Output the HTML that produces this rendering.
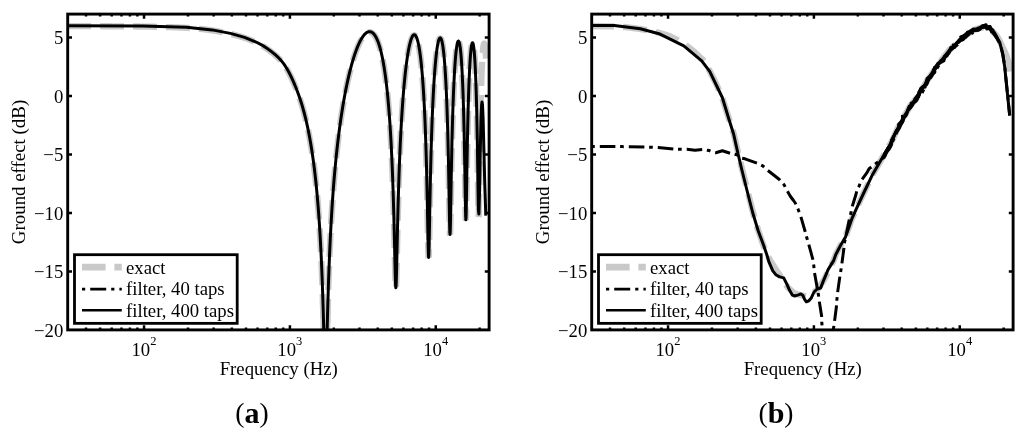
<!DOCTYPE html>
<html lang="en">
<head>
<meta charset="utf-8">
<title>Ground effect: exact vs. filter approximations</title>
<style>
html,body{margin:0;padding:0;background:#fff;}
body{width:1024px;height:436px;overflow:hidden;font-family:"Liberation Serif","Times New Roman",serif;}
svg{display:block;}
</style>
</head>
<body>
<svg width="1024" height="436" viewBox="0 0 1024 436">
<defs>
<clipPath id="ca"><rect x="67.7" y="14.1" width="421.40000000000003" height="315.79999999999995"/></clipPath>
<clipPath id="cb"><rect x="591.7" y="14.1" width="421.40000000000003" height="315.79999999999995"/></clipPath>
</defs>
<rect width="1024" height="436" fill="#fff"/>
<g clip-path="url(#ca)" fill="none" stroke-linejoin="round">
<path transform="translate(0 0.5)" d="M67.70 25.63L67.90 25.63L68.10 25.63L68.30 25.63L68.50 25.63L68.70 25.63L68.90 25.63L69.10 25.64L69.30 25.64L69.50 25.64L69.70 25.64L69.90 25.64L70.10 25.64L70.30 25.64L70.50 25.64L70.70 25.64L70.90 25.64L71.10 25.64L71.30 25.64L71.50 25.64L71.70 25.64L71.90 25.64L72.10 25.64L72.30 25.64L72.50 25.64L72.70 25.64L72.90 25.64L73.10 25.64L73.30 25.64L73.50 25.64L73.70 25.64L73.90 25.64L74.10 25.64L74.30 25.64L74.50 25.65L74.70 25.65L74.90 25.65L75.10 25.65L75.30 25.65L75.50 25.65L75.70 25.65L75.90 25.65L76.10 25.65L76.30 25.65L76.50 25.65L76.70 25.65L76.90 25.65L77.10 25.65L77.30 25.65L77.50 25.65L77.70 25.65L77.90 25.65L78.10 25.65L78.30 25.65L78.50 25.65L78.70 25.65L78.90 25.65L79.10 25.65L79.30 25.66L79.50 25.66L79.70 25.66L79.90 25.66L80.10 25.66L80.30 25.66L80.50 25.66L80.70 25.66L80.90 25.66L81.10 25.66L81.30 25.66L81.50 25.66L81.70 25.66L81.90 25.66L82.10 25.66L82.30 25.66L82.50 25.66L82.70 25.66L82.90 25.66L83.10 25.66L83.30 25.66L83.50 25.67L83.70 25.67L83.90 25.67L84.10 25.67L84.30 25.67L84.50 25.67L84.70 25.67L84.90 25.67L85.10 25.67L85.30 25.67L85.50 25.67L85.70 25.67L85.90 25.67L86.10 25.67L86.30 25.67L86.50 25.67L86.70 25.67L86.90 25.67L87.10 25.68L87.30 25.68L87.50 25.68L87.70 25.68L87.90 25.68L88.10 25.68L88.30 25.68L88.50 25.68L88.70 25.68L88.90 25.68L89.10 25.68L89.30 25.68L89.50 25.68L89.70 25.68L89.90 25.68L90.10 25.68L90.30 25.68L90.50 25.69L90.70 25.69L90.90 25.69L91.10 25.69L91.30 25.69L91.50 25.69L91.70 25.69L91.90 25.69L92.10 25.69L92.30 25.69L92.50 25.69L92.70 25.69L92.90 25.69L93.10 25.69L93.30 25.69L93.50 25.69L93.70 25.70L93.90 25.70L94.10 25.70L94.30 25.70L94.50 25.70L94.70 25.70L94.90 25.70L95.10 25.70L95.30 25.70L95.50 25.70L95.70 25.70L95.90 25.70L96.10 25.70L96.30 25.70L96.50 25.71L96.70 25.71L96.90 25.71L97.10 25.71L97.30 25.71L97.50 25.71L97.70 25.71L97.90 25.71L98.10 25.71L98.30 25.71L98.50 25.71L98.70 25.71L98.90 25.71L99.10 25.72L99.30 25.72L99.50 25.72L99.70 25.72L99.90 25.72L100.10 25.72L100.30 25.72L100.50 25.72L100.70 25.72L100.90 25.72L101.10 25.72L101.30 25.72L101.50 25.73L101.70 25.73L101.90 25.73L102.10 25.73L102.30 25.73L102.50 25.73L102.70 25.73L102.90 25.73L103.10 25.73L103.30 25.73L103.50 25.73L103.70 25.73L103.90 25.74L104.10 25.74L104.30 25.74L104.50 25.74L104.70 25.74L104.90 25.74L105.10 25.74L105.30 25.74L105.50 25.74L105.70 25.74L105.90 25.74L106.10 25.75L106.30 25.75L106.50 25.75L106.70 25.75L106.90 25.75L107.10 25.75L107.30 25.75L107.50 25.75L107.70 25.75L107.90 25.75L108.10 25.76L108.30 25.76L108.50 25.76L108.70 25.76L108.90 25.76L109.10 25.76L109.30 25.76L109.50 25.76L109.70 25.76L109.90 25.77L110.10 25.77L110.30 25.77L110.50 25.77L110.70 25.77L110.90 25.77L111.10 25.77L111.30 25.77L111.50 25.77L111.70 25.78L111.90 25.78L112.10 25.78L112.30 25.78L112.50 25.78L112.70 25.78L112.90 25.78L113.10 25.78L113.30 25.78L113.50 25.79L113.70 25.79L113.90 25.79L114.10 25.79L114.30 25.79L114.50 25.79L114.70 25.79L114.90 25.79L115.10 25.80L115.30 25.80L115.50 25.80L115.70 25.80L115.90 25.80L116.10 25.80L116.30 25.80L116.50 25.80L116.70 25.81L116.90 25.81L117.10 25.81L117.30 25.81L117.50 25.81L117.70 25.81L117.90 25.81L118.10 25.82L118.30 25.82L118.50 25.82L118.70 25.82L118.90 25.82L119.10 25.82L119.30 25.82L119.50 25.83L119.70 25.83L119.90 25.83L120.10 25.83L120.30 25.83L120.50 25.83L120.70 25.83L120.90 25.84L121.10 25.84L121.30 25.84L121.50 25.84L121.70 25.84L121.90 25.84L122.10 25.84L122.30 25.85L122.50 25.85L122.70 25.85L122.90 25.85L123.10 25.85L123.30 25.85L123.50 25.86L123.70 25.86L123.90 25.86L124.10 25.86L124.30 25.86L124.50 25.86L124.70 25.87L124.90 25.87L125.10 25.87L125.30 25.87L125.50 25.87L125.70 25.87L125.90 25.88L126.10 25.88L126.30 25.88L126.50 25.88L126.70 25.88L126.90 25.88L127.10 25.89L127.30 25.89L127.50 25.89L127.70 25.89L127.90 25.89L128.10 25.90L128.30 25.90L128.50 25.90L128.70 25.90L128.90 25.90L129.10 25.90L129.30 25.91L129.50 25.91L129.70 25.91L129.90 25.91L130.10 25.91L130.30 25.92L130.50 25.92L130.70 25.92L130.90 25.92L131.10 25.92L131.30 25.93L131.50 25.93L131.70 25.93L131.90 25.93L132.10 25.93L132.30 25.94L132.50 25.94L132.70 25.94L132.90 25.94L133.10 25.94L133.30 25.95L133.50 25.95L133.70 25.95L133.90 25.95L134.10 25.96L134.30 25.96L134.50 25.96L134.70 25.96L134.90 25.96L135.10 25.97L135.30 25.97L135.50 25.97L135.70 25.97L135.90 25.98L136.10 25.98L136.30 25.98L136.50 25.98L136.70 25.99L136.90 25.99L137.10 25.99L137.30 25.99L137.50 25.99L137.70 26.00L137.90 26.00L138.10 26.00L138.30 26.00L138.50 26.01L138.70 26.01L138.90 26.01L139.10 26.01L139.30 26.02L139.50 26.02L139.70 26.02L139.90 26.03L140.10 26.03L140.30 26.03L140.50 26.03L140.70 26.04L140.90 26.04L141.10 26.04L141.30 26.04L141.50 26.05L141.70 26.05L141.90 26.05L142.10 26.05L142.30 26.06L142.50 26.06L142.70 26.06L142.90 26.07L143.10 26.07L143.30 26.07L143.50 26.07L143.70 26.08L143.90 26.08L144.10 26.08L144.30 26.09L144.50 26.09L144.70 26.09L144.90 26.10L145.10 26.10L145.30 26.10L145.50 26.10L145.70 26.11L145.90 26.11L146.10 26.11L146.30 26.12L146.50 26.12L146.70 26.12L146.90 26.13L147.10 26.13L147.30 26.13L147.50 26.14L147.70 26.14L147.90 26.14L148.10 26.15L148.30 26.15L148.50 26.15L148.70 26.16L148.90 26.16L149.10 26.16L149.30 26.17L149.50 26.17L149.70 26.17L149.90 26.18L150.10 26.18L150.30 26.18L150.50 26.19L150.70 26.19L150.90 26.20L151.10 26.20L151.30 26.20L151.50 26.21L151.70 26.21L151.90 26.21L152.10 26.22L152.30 26.22L152.50 26.23L152.70 26.23L152.90 26.23L153.10 26.24L153.30 26.24L153.50 26.24L153.70 26.25L153.90 26.25L154.10 26.26L154.30 26.26L154.50 26.26L154.70 26.27L154.90 26.27L155.10 26.28L155.30 26.28L155.50 26.29L155.70 26.29L155.90 26.29L156.10 26.30L156.30 26.30L156.50 26.31L156.70 26.31L156.90 26.32L157.10 26.32L157.30 26.32L157.50 26.33L157.70 26.33L157.90 26.34L158.10 26.34L158.30 26.35L158.50 26.35L158.70 26.36L158.90 26.36L159.10 26.37L159.30 26.37L159.50 26.37L159.70 26.38L159.90 26.38L160.10 26.39L160.30 26.39L160.50 26.40L160.70 26.40L160.90 26.41L161.10 26.41L161.30 26.42L161.50 26.42L161.70 26.43L161.90 26.43L162.10 26.44L162.30 26.44L162.50 26.45L162.70 26.45L162.90 26.46L163.10 26.46L163.30 26.47L163.50 26.48L163.70 26.48L163.90 26.49L164.10 26.49L164.30 26.50L164.50 26.50L164.70 26.51L164.90 26.51L165.10 26.52L165.30 26.52L165.50 26.53L165.70 26.54L165.90 26.54L166.10 26.55L166.30 26.55L166.50 26.56L166.70 26.56L166.90 26.57L167.10 26.58L167.30 26.58L167.50 26.59L167.70 26.59L167.90 26.60L168.10 26.61L168.30 26.61L168.50 26.62L168.70 26.63L168.90 26.63L169.10 26.64L169.30 26.64L169.50 26.65L169.70 26.66L169.90 26.66L170.10 26.67L170.30 26.68L170.50 26.68L170.70 26.69L170.90 26.70L171.10 26.70L171.30 26.71L171.50 26.72L171.70 26.72L171.90 26.73L172.10 26.74L172.30 26.74L172.50 26.75L172.70 26.76L172.90 26.77L173.10 26.77L173.30 26.78L173.50 26.79L173.70 26.79L173.90 26.80L174.10 26.81L174.30 26.82L174.50 26.82L174.70 26.83L174.90 26.84L175.10 26.85L175.30 26.85L175.50 26.86L175.70 26.87L175.90 26.88L176.10 26.89L176.30 26.89L176.50 26.90L176.70 26.91L176.90 26.92L177.10 26.92L177.30 26.93L177.50 26.94L177.70 26.95L177.90 26.96L178.10 26.97L178.30 26.97L178.50 26.98L178.70 26.99L178.90 27.00L179.10 27.01L179.30 27.02L179.50 27.03L179.70 27.03L179.90 27.04L180.10 27.05L180.30 27.06L180.50 27.07L180.70 27.08L180.90 27.09L181.10 27.10L181.30 27.11L181.50 27.12L181.70 27.12L181.90 27.13L182.10 27.14L182.30 27.15L182.50 27.16L182.70 27.17L182.90 27.18L183.10 27.19L183.30 27.20L183.50 27.21L183.70 27.22L183.90 27.23L184.10 27.24L184.30 27.25L184.50 27.26L184.70 27.27L184.90 27.28L185.10 27.29L185.30 27.30L185.50 27.31L185.70 27.32L185.90 27.33L186.10 27.34L186.30 27.36L186.50 27.37L186.70 27.38L186.90 27.39L187.10 27.40L187.30 27.41L187.50 27.42L187.70 27.43L187.90 27.44L188.10 27.46L188.30 27.47L188.50 27.48L188.70 27.49L188.90 27.50L189.10 27.51L189.30 27.53L189.50 27.54L189.70 27.55L189.90 27.56L190.10 27.57L190.30 27.59L190.50 27.60L190.70 27.61L190.90 27.63L191.10 27.64L191.30 27.65L191.50 27.66L191.70 27.68L191.90 27.69L192.10 27.71L192.30 27.72L192.50 27.73L192.70 27.75L192.90 27.76L193.10 27.78L193.30 27.79L193.50 27.81L193.70 27.82L193.90 27.84L194.10 27.85L194.30 27.87L194.50 27.88L194.70 27.90L194.90 27.92L195.10 27.93L195.30 27.95L195.50 27.96L195.70 27.98L195.90 28.00L196.10 28.02L196.30 28.03L196.50 28.05L196.70 28.07L196.90 28.09L197.10 28.10L197.30 28.12L197.50 28.14L197.70 28.16L197.90 28.18L198.10 28.19L198.30 28.21L198.50 28.23L198.70 28.25L198.90 28.27L199.10 28.29L199.30 28.31L199.50 28.33L199.70 28.35L199.90 28.37L200.10 28.39L200.30 28.41L200.50 28.43L200.70 28.45L200.90 28.47L201.10 28.49L201.30 28.51L201.50 28.54L201.70 28.56L201.90 28.58L202.10 28.60L202.30 28.62L202.50 28.65L202.70 28.67L202.90 28.69L203.10 28.71L203.30 28.74L203.50 28.76L203.70 28.78L203.90 28.81L204.10 28.83L204.30 28.85L204.50 28.88L204.70 28.90L204.90 28.92L205.10 28.95L205.30 28.97L205.50 29.00L205.70 29.02L205.90 29.05L206.10 29.07L206.30 29.10L206.50 29.12L206.70 29.15L206.90 29.17L207.10 29.20L207.30 29.23L207.50 29.25L207.70 29.28L207.90 29.30L208.10 29.33L208.30 29.36L208.50 29.38L208.70 29.41L208.90 29.44L209.10 29.47L209.30 29.49L209.50 29.52L209.70 29.55L209.90 29.58L210.10 29.61L210.30 29.63L210.50 29.66L210.70 29.69L210.90 29.72L211.10 29.75L211.30 29.78L211.50 29.81L211.70 29.84L211.90 29.87L212.10 29.90L212.30 29.93L212.50 29.96L212.70 29.99L212.90 30.02L213.10 30.05L213.30 30.08L213.50 30.11L213.70 30.14L213.90 30.17L214.10 30.21L214.30 30.24L214.50 30.27L214.70 30.30L214.90 30.33L215.10 30.37L215.30 30.40L215.50 30.43L215.70 30.46L215.90 30.50L216.10 30.53L216.30 30.56L216.50 30.60L216.70 30.63L216.90 30.66L217.10 30.70L217.30 30.73L217.50 30.77L217.70 30.80L217.90 30.84L218.10 30.87L218.30 30.91L218.50 30.94L218.70 30.98L218.90 31.01L219.10 31.05L219.30 31.08L219.50 31.12L219.70 31.16L219.90 31.19L220.10 31.23L220.30 31.27L220.50 31.30L220.70 31.34L220.90 31.38L221.10 31.42L221.30 31.45L221.50 31.49L221.70 31.53L221.90 31.57L222.10 31.61L222.30 31.64L222.50 31.68L222.70 31.72L222.90 31.76L223.10 31.80L223.30 31.84L223.50 31.88L223.70 31.92L223.90 31.96L224.10 32.00L224.30 32.04L224.50 32.08L224.70 32.12L224.90 32.16L225.10 32.21L225.30 32.25L225.50 32.29L225.70 32.33L225.90 32.37L226.10 32.41L226.30 32.46L226.50 32.50L226.70 32.54L226.90 32.59L227.10 32.63L227.30 32.67L227.50 32.72L227.70 32.76L227.90 32.80L228.10 32.85L228.30 32.89L228.50 32.94L228.70 32.98L228.90 33.03L229.10 33.07L229.30 33.12L229.50 33.16L229.70 33.21L229.90 33.26L230.10 33.30L230.30 33.35L230.50 33.40L230.70 33.44L230.90 33.49L231.10 33.54L231.30 33.59L231.50 33.63L231.70 33.68L231.90 33.73L232.10 33.78L232.30 33.83L232.50 33.88L232.70 33.93L232.90 33.98L233.10 34.03L233.30 34.08L233.50 34.13L233.70 34.18L233.90 34.23L234.10 34.28L234.30 34.33L234.50 34.38L234.70 34.43L234.90 34.49L235.10 34.54L235.30 34.59L235.50 34.64L235.70 34.70L235.90 34.75L236.10 34.80L236.30 34.86L236.50 34.91L236.70 34.97L236.90 35.02L237.10 35.08L237.30 35.13L237.50 35.19L237.70 35.24L237.90 35.30L238.10 35.35L238.30 35.41L238.50 35.47L238.70 35.52L238.90 35.58L239.10 35.64L239.30 35.70L239.50 35.76L239.70 35.81L239.90 35.87L240.10 35.93L240.30 35.99L240.50 36.05L240.70 36.11L240.90 36.17L241.10 36.24L241.30 36.30L241.50 36.36L241.70 36.42L241.90 36.48L242.10 36.55L242.30 36.61L242.50 36.68L242.70 36.74L242.90 36.80L243.10 36.87L243.30 36.94L243.50 37.00L243.70 37.07L243.90 37.13L244.10 37.20L244.30 37.27L244.50 37.34L244.70 37.41L244.90 37.48L245.10 37.55L245.30 37.62L245.50 37.69L245.70 37.76L245.90 37.83L246.10 37.90L246.30 37.97L246.50 38.05L246.70 38.12L246.90 38.19L247.10 38.27L247.30 38.34L247.50 38.42L247.70 38.49L247.90 38.57L248.10 38.65L248.30 38.72L248.50 38.80L248.70 38.88L248.90 38.96L249.10 39.04L249.30 39.12L249.50 39.20L249.70 39.28L249.90 39.36L250.10 39.44L250.30 39.52L250.50 39.60L250.70 39.68L250.90 39.77L251.10 39.85L251.30 39.93L251.50 40.01L251.70 40.10L251.90 40.18L252.10 40.27L252.30 40.35L252.50 40.44L252.70 40.52L252.90 40.61L253.10 40.70L253.30 40.78L253.50 40.87L253.70 40.96L253.90 41.05L254.10 41.13L254.30 41.22L254.50 41.31L254.70 41.40L254.90 41.49L255.10 41.58L255.30 41.68L255.50 41.77L255.70 41.86L255.90 41.95L256.10 42.05L256.30 42.14L256.50 42.24L256.70 42.33L256.90 42.43L257.10 42.53L257.30 42.62L257.50 42.72L257.70 42.82L257.90 42.92L258.10 43.02L258.30 43.12L258.50 43.22L258.70 43.33L258.90 43.43L259.10 43.54L259.30 43.64L259.50 43.75L259.70 43.85L259.90 43.96L260.10 44.07L260.30 44.18L260.50 44.29L260.70 44.40L260.90 44.51L261.10 44.63L261.30 44.74L261.50 44.85L261.70 44.97L261.90 45.08L262.10 45.20L262.30 45.32L262.50 45.44L262.70 45.56L262.90 45.68L263.10 45.80L263.30 45.92L263.50 46.04L263.70 46.17L263.90 46.29L264.10 46.42L264.30 46.54L264.50 46.67L264.70 46.80L264.90 46.93L265.10 47.06L265.30 47.19L265.50 47.32L265.70 47.45L265.90 47.58L266.10 47.72L266.30 47.85L266.50 47.99L266.70 48.13L266.90 48.26L267.10 48.40L267.30 48.54L267.50 48.68L267.70 48.82L267.90 48.96L268.10 49.10L268.30 49.25L268.50 49.39L268.70 49.54L268.90 49.68L269.10 49.83L269.30 49.97L269.50 50.12L269.70 50.27L269.90 50.42L270.10 50.57L270.30 50.72L270.50 50.87L270.70 51.02L270.90 51.17L271.10 51.32L271.30 51.48L271.50 51.63L271.70 51.78L271.90 51.94L272.10 52.09L272.30 52.25L272.50 52.41L272.70 52.57L272.90 52.72L273.10 52.88L273.30 53.04L273.50 53.21L273.70 53.37L273.90 53.53L274.10 53.70L274.30 53.86L274.50 54.03L274.70 54.20L274.90 54.37L275.10 54.54L275.30 54.71L275.50 54.88L275.70 55.06L275.90 55.24L276.10 55.41L276.30 55.59L276.50 55.78L276.70 55.96L276.90 56.14L277.10 56.33L277.30 56.52L277.50 56.71L277.70 56.90L277.90 57.10L278.10 57.29L278.30 57.49L278.50 57.69L278.70 57.90L278.90 58.10L279.10 58.31L279.30 58.52L279.50 58.73L279.70 58.94L279.90 59.16L280.10 59.37L280.30 59.59L280.50 59.82L280.70 60.04L280.90 60.27L281.10 60.50L281.30 60.73L281.50 60.97L281.70 61.21L281.90 61.45L282.10 61.69L282.30 61.94L282.50 62.19L282.70 62.45L282.90 62.71L283.10 62.97L283.30 63.23L283.50 63.50L283.70 63.78L283.90 64.05L284.10 64.34L284.30 64.62L284.50 64.91L284.70 65.20L284.90 65.50L285.10 65.80L285.30 66.11L285.50 66.42L285.70 66.73L285.90 67.05L286.10 67.38L286.30 67.70L286.50 68.03L286.70 68.37L286.90 68.70L287.10 69.05L287.30 69.39L287.50 69.74L287.70 70.09L287.90 70.45L288.10 70.81L288.30 71.17L288.50 71.54L288.70 71.91L288.90 72.29L289.10 72.66L289.30 73.04L289.50 73.43L289.70 73.82L289.90 74.21L290.10 74.61L290.30 75.01L290.50 75.41L290.70 75.82L290.90 76.23L291.10 76.64L291.30 77.06L291.50 77.49L291.70 77.91L291.90 78.34L292.10 78.77L292.30 79.21L292.50 79.65L292.70 80.09L292.90 80.54L293.10 80.99L293.30 81.44L293.50 81.90L293.70 82.36L293.90 82.82L294.10 83.29L294.30 83.76L294.50 84.23L294.70 84.71L294.90 85.19L295.10 85.67L295.30 86.16L295.50 86.65L295.70 87.14L295.90 87.64L296.10 88.14L296.30 88.64L296.50 89.15L296.70 89.66L296.90 90.17L297.10 90.69L297.30 91.22L297.50 91.74L297.70 92.28L297.90 92.81L298.10 93.36L298.30 93.90L298.50 94.45L298.70 95.01L298.90 95.57L299.10 96.14L299.30 96.71L299.50 97.29L299.70 97.88L299.90 98.47L300.10 99.07L300.30 99.67L300.50 100.28L300.70 100.89L300.90 101.52L301.10 102.15L301.30 102.78L301.50 103.43L301.70 104.08L301.90 104.74L302.10 105.40L302.30 106.07L302.50 106.76L302.70 107.44L302.90 108.14L303.10 108.84L303.30 109.56L303.50 110.28L303.70 111.01L303.90 111.75L304.10 112.49L304.30 113.25L304.50 114.02L304.70 114.79L304.90 115.57L305.10 116.37L305.30 117.17L305.50 117.99L305.70 118.81L305.90 119.65L306.10 120.49L306.30 121.35L306.50 122.21L306.70 123.09L306.90 123.98L307.10 124.89L307.30 125.80L307.50 126.73L307.70 127.67L307.90 128.62L308.10 129.59L308.30 130.57L308.50 131.56L308.70 132.57L308.90 133.59L309.10 134.62L309.30 135.68L309.50 136.74L309.70 137.83L309.90 138.93L310.10 140.04L310.30 141.18L310.50 142.33L310.70 143.50L310.90 144.68L311.10 145.89L311.30 147.12L311.50 148.36L311.70 149.62L311.90 150.91L312.10 152.21L312.30 153.54L312.50 154.89L312.70 156.27L312.90 157.67L313.10 159.10L313.30 160.55L313.50 162.03L313.70 163.54L313.90 165.07L314.10 166.64L314.30 168.23L314.50 169.86L314.70 171.52L314.90 173.22L315.10 174.95L315.30 176.72L315.50 178.52L315.70 180.37L315.90 182.25L316.10 184.18L316.30 186.15L316.50 188.17L316.70 190.24L316.90 192.36L317.10 194.53L317.30 196.76L317.50 199.04L317.70 201.38L317.90 203.79L318.10 206.26L318.30 208.80L318.50 211.41L318.70 214.11L318.90 216.88L319.10 219.74L319.30 222.69L319.50 225.73L319.70 228.87L319.90 232.13L320.10 235.50L320.30 238.98L320.50 242.60L320.70 246.36L320.90 250.27L321.10 254.33L321.30 258.57L321.50 262.98L321.70 267.60L321.90 272.42L322.10 277.47L322.30 282.77L322.50 288.33L322.70 294.18L322.90 300.33L323.10 306.80L323.30 313.61L323.50 320.77L323.70 328.28L323.90 336.11L324.10 344.22L324.30 352.49L324.50 359.90" stroke-linejoin="bevel" stroke="#c9c9c9" stroke-width="6.3" stroke-dasharray="24 9" stroke-dashoffset="0.7"/>
<path transform="translate(0 0.5)" d="M324.50 359.90L324.70 359.90L324.90 359.90L325.10 359.90L325.30 359.90L325.50 359.90L325.70 359.90L325.90 359.90L326.10 359.90L326.30 359.90L326.50 357.68L326.70 349.11L326.90 340.55L327.10 332.18L327.30 324.10L327.50 316.35L327.70 308.96L327.90 301.91L328.10 295.20L328.30 288.82L328.50 282.73L328.70 276.92L328.90 271.38L329.10 266.08L329.30 261.00L329.50 256.13L329.70 251.45L329.90 246.96L330.10 242.63L330.30 238.46L330.50 234.44L330.70 230.54L330.90 226.77L331.10 223.13L331.30 219.60L331.50 216.18L331.70 212.87L331.90 209.65L332.10 206.52L332.30 203.49L332.50 200.53L332.70 197.65L332.90 194.85L333.10 192.11L333.30 189.44L333.50 186.84L333.70 184.30L333.90 181.81L334.10 179.39L334.30 177.01L334.50 174.69L334.70 172.41L334.90 170.18L335.10 168.00L335.30 165.86L335.50 163.77L335.70 161.71L335.90 159.69L336.10 157.71L336.30 155.77L336.50 153.86L336.70 151.98L336.90 150.14L337.10 148.33L337.30 146.55L337.50 144.80L337.70 143.07L337.90 141.38L338.10 139.71L338.30 138.07L338.50 136.45L338.70 134.84L338.90 133.26L339.10 131.70L339.30 130.16L339.50 128.65L339.70 127.15L339.90 125.68L340.10 124.23L340.30 122.79L340.50 121.38L340.70 119.99L340.90 118.61L341.10 117.25L341.30 115.91L341.50 114.59L341.70 113.29L341.90 112.00L342.10 110.73L342.30 109.47L342.50 108.23L342.70 107.00L342.90 105.79L343.10 104.60L343.30 103.42L343.50 102.25L343.70 101.10L343.90 99.96L344.10 98.84L344.30 97.73L344.50 96.63L344.70 95.54L344.90 94.47L345.10 93.41L345.30 92.36L345.50 91.32L345.70 90.30L345.90 89.29L346.10 88.29L346.30 87.30L346.50 86.32L346.70 85.36L346.90 84.40L347.10 83.46L347.30 82.52L347.50 81.60L347.70 80.69L347.90 79.78L348.10 78.89L348.30 78.01L348.50 77.14L348.70 76.28L348.90 75.42L349.10 74.58L349.30 73.75L349.50 72.92L349.70 72.11L349.90 71.30L350.10 70.51L350.30 69.72L350.50 68.94L350.70 68.18L350.90 67.42L351.10 66.66L351.30 65.92L351.50 65.19L351.70 64.46L351.90 63.75L352.10 63.04L352.30 62.34L352.50 61.65L352.70 60.97L352.90 60.29L353.10 59.63L353.30 58.97L353.50 58.32L353.70 57.68L353.90 57.04L354.10 56.42L354.30 55.80L354.50 55.19L354.70 54.59L354.90 54.00L355.10 53.41L355.30 52.83L355.50 52.26L355.70 51.70L355.90 51.14L356.10 50.60L356.30 50.06L356.50 49.53L356.70 49.00L356.90 48.48L357.10 47.98L357.30 47.47L357.50 46.98L357.70 46.50L357.90 46.02L358.10 45.55L358.30 45.08L358.50 44.63L358.70 44.18L358.90 43.74L359.10 43.31L359.30 42.88L359.50 42.46L359.70 42.05L359.90 41.65L360.10 41.25L360.30 40.87L360.50 40.49L360.70 40.11L360.90 39.75L361.10 39.39L361.30 39.04L361.50 38.70L361.70 38.37L361.90 38.04L362.10 37.72L362.30 37.41L362.50 37.11L362.70 36.81L362.90 36.52L363.10 36.24L363.30 35.97L363.50 35.71L363.70 35.45L363.90 35.20L364.10 34.96L364.30 34.73L364.50 34.51L364.70 34.29L364.90 34.08L365.10 33.88L365.30 33.69L365.50 33.51L365.70 33.33L365.90 33.17L366.10 33.01L366.30 32.86L366.50 32.72L366.70 32.58L366.90 32.46L367.10 32.34L367.30 32.24L367.50 32.14L367.70 32.05L367.90 31.97L368.10 31.90L368.30 31.84L368.50 31.78L368.70 31.74L368.90 31.71L369.10 31.68L369.30 31.66L369.50 31.66L369.70 31.66L369.90 31.67L370.10 31.69L370.30 31.72L370.50 31.76L370.70 31.81L370.90 31.87L371.10 31.94L371.30 32.03L371.50 32.12L371.70 32.22L371.90 32.33L372.10 32.46L372.30 32.59L372.50 32.74L372.70 32.90L372.90 33.06L373.10 33.24L373.30 33.44L373.50 33.64L373.70 33.85L373.90 34.08L374.10 34.32L374.30 34.57L374.50 34.84L374.70 35.11L374.90 35.40L375.10 35.71L375.30 36.02L375.50 36.35L375.70 36.70L375.90 37.05L376.10 37.42L376.30 37.81L376.50 38.21L376.70 38.62L376.90 39.05L377.10 39.50L377.30 39.96L377.50 40.43L377.70 40.92L377.90 41.43L378.10 41.96L378.30 42.50L378.50 43.06L378.70 43.63L378.90 44.22L379.10 44.84L379.30 45.46L379.50 46.11L379.70 46.78L379.90 47.47L380.10 48.17L380.30 48.90L380.50 49.65L380.70 50.42L380.90 51.21L381.10 52.02L381.30 52.86L381.50 53.72L381.70 54.60L381.90 55.51L382.10 56.44L382.30 57.39L382.50 58.38L382.70 59.39L382.90 60.42L383.10 61.49L383.30 62.58L383.50 63.71L383.70 64.86L383.90 66.05L384.10 67.26L384.30 68.52L384.50 69.80L384.70 71.12L384.90 72.48L385.10 73.87L385.30 75.31L385.50 76.78L385.70 78.30L385.90 79.85L386.10 81.46L386.30 83.10L386.50 84.80L386.70 86.54L386.90 88.34L387.10 90.19L387.30 92.10L387.50 94.06L387.70 96.08L387.90 98.17L388.10 100.32L388.30 102.54L388.50 104.83L388.70 107.20L388.90 109.65L389.10 112.18L389.30 114.79L389.50 117.50L389.70 120.31L389.90 123.22L390.10 126.23L390.30 129.36L390.50 132.62L390.70 136.00L390.90 139.53L391.10 143.20L391.30 147.02L391.50 151.02L391.70 155.20L391.90 159.57L392.10 164.16L392.30 168.97L392.50 174.03L392.70 179.35L392.90 184.96L393.10 190.88L393.30 197.13L393.50 203.74L393.70 210.74L393.90 218.13L394.10 225.94L394.30 234.14L394.50 242.70L394.70 251.51L394.90 260.38L395.10 268.95L395.30 276.71L395.50 282.92L395.70 286.83L395.90 287.78L396.10 285.56L396.30 280.51L396.50 273.38L396.70 264.98L396.90 255.95L397.10 246.78L397.30 237.75L397.50 229.01L397.70 220.65L397.90 212.70L398.10 205.16L398.30 198.02L398.50 191.25L398.70 184.84L398.90 178.76L399.10 172.98L399.30 167.48L399.50 162.24L399.70 157.24L399.90 152.47L400.10 147.91L400.30 143.54L400.50 139.35L400.70 135.33L400.90 131.46L401.10 127.75L401.30 124.17L401.50 120.72L401.70 117.40L401.90 114.19L402.10 111.10L402.30 108.11L402.50 105.22L402.70 102.43L402.90 99.72L403.10 97.11L403.30 94.57L403.50 92.12L403.70 89.74L403.90 87.44L404.10 85.20L404.30 83.04L404.50 80.94L404.70 78.90L404.90 76.92L405.10 75.01L405.30 73.15L405.50 71.35L405.70 69.60L405.90 67.91L406.10 66.27L406.30 64.67L406.50 63.13L406.70 61.64L406.90 60.19L407.10 58.79L407.30 57.43L407.50 56.12L407.70 54.85L407.90 53.63L408.10 52.44L408.30 51.30L408.50 50.20L408.70 49.14L408.90 48.12L409.10 47.14L409.30 46.20L409.50 45.29L409.70 44.43L409.90 43.60L410.10 42.81L410.30 42.06L410.50 41.34L410.70 40.66L410.90 40.02L411.10 39.42L411.30 38.85L411.50 38.32L411.70 37.82L411.90 37.36L412.10 36.94L412.30 36.55L412.50 36.21L412.70 35.89L412.90 35.62L413.10 35.38L413.30 35.17L413.50 35.01L413.70 34.88L413.90 34.79L414.10 34.74L414.30 34.74L414.50 34.77L414.70 34.84L414.90 34.95L415.10 35.10L415.30 35.29L415.50 35.52L415.70 35.79L415.90 36.11L416.10 36.46L416.30 36.86L416.50 37.31L416.70 37.80L416.90 38.33L417.10 38.91L417.30 39.54L417.50 40.22L417.70 40.94L417.90 41.72L418.10 42.54L418.30 43.42L418.50 44.36L418.70 45.35L418.90 46.39L419.10 47.50L419.30 48.66L419.50 49.89L419.70 51.18L419.90 52.54L420.10 53.96L420.30 55.46L420.50 57.03L420.70 58.67L420.90 60.40L421.10 62.20L421.30 64.09L421.50 66.07L421.70 68.14L421.90 70.31L422.10 72.58L422.30 74.96L422.50 77.45L422.70 80.05L422.90 82.78L423.10 85.65L423.30 88.65L423.50 91.80L423.70 95.11L423.90 98.58L424.10 102.23L424.30 106.08L424.50 110.13L424.70 114.41L424.90 118.92L425.10 123.70L425.30 128.76L425.50 134.13L425.70 139.84L425.90 145.92L426.10 152.40L426.30 159.33L426.50 166.75L426.70 174.69L426.90 183.21L427.10 192.33L427.30 202.05L427.50 212.31L427.70 222.94L427.90 233.56L428.10 243.48L428.30 251.58L428.50 256.48L428.70 257.08L428.90 253.17L429.10 245.64L429.30 235.87L429.50 225.10L429.70 214.15L429.90 203.48L430.10 193.32L430.30 183.75L430.50 174.79L430.70 166.41L430.90 158.58L431.10 151.26L431.30 144.40L431.50 137.96L431.70 131.91L431.90 126.22L432.10 120.84L432.30 115.77L432.50 110.97L432.70 106.43L432.90 102.12L433.10 98.04L433.30 94.16L433.50 90.47L433.70 86.96L433.90 83.63L434.10 80.46L434.30 77.44L434.50 74.57L434.70 71.84L434.90 69.24L435.10 66.77L435.30 64.42L435.50 62.19L435.70 60.07L435.90 58.07L436.10 56.17L436.30 54.38L436.50 52.69L436.70 51.10L436.90 49.61L437.10 48.21L437.30 46.90L437.50 45.69L437.70 44.56L437.90 43.53L438.10 42.58L438.30 41.73L438.50 40.95L438.70 40.27L438.90 39.67L439.10 39.16L439.30 38.73L439.50 38.39L439.70 38.13L439.90 37.96L440.10 37.88L440.30 37.88L440.50 37.98L440.70 38.17L440.90 38.44L441.10 38.81L441.30 39.27L441.50 39.83L441.70 40.48L441.90 41.23L442.10 42.08L442.30 43.04L442.50 44.10L442.70 45.27L442.90 46.55L443.10 47.95L443.30 49.47L443.50 51.11L443.70 52.88L443.90 54.79L444.10 56.84L444.30 59.03L444.50 61.38L444.70 63.89L444.90 66.57L445.10 69.43L445.30 72.48L445.50 75.74L445.70 79.21L445.90 82.91L446.10 86.86L446.30 91.08L446.50 95.58L446.70 100.40L446.90 105.57L447.10 111.10L447.30 117.05L447.50 123.44L447.70 130.33L447.90 137.77L448.10 145.81L448.30 154.51L448.50 163.92L448.70 174.06L448.90 184.92L449.10 196.34L449.30 207.97L449.50 219.02L449.70 228.16L449.90 233.61L450.10 233.91L450.30 228.93L450.50 219.98L450.70 208.87L450.90 197.02L451.10 185.29L451.30 174.10L451.50 163.60L451.70 153.86L451.90 144.83L452.10 136.47L452.30 128.74L452.50 121.57L452.70 114.92L452.90 108.73L453.10 102.97L453.30 97.60L453.50 92.59L453.70 87.92L453.90 83.55L454.10 79.47L454.30 75.66L454.50 72.11L454.70 68.79L454.90 65.70L455.10 62.82L455.30 60.16L455.50 57.68L455.70 55.40L455.90 53.30L456.10 51.38L456.30 49.64L456.50 48.06L456.70 46.64L456.90 45.39L457.10 44.30L457.30 43.37L457.50 42.59L457.70 41.97L457.90 41.50L458.10 41.19L458.30 41.04L458.50 41.02L458.70 41.16L458.90 41.46L459.10 41.91L459.30 42.54L459.50 43.33L459.70 44.29L459.90 45.43L460.10 46.75L460.30 48.25L460.50 49.96L460.70 51.86L460.90 53.98L461.10 56.31L461.30 58.88L461.50 61.70L461.70 64.77L461.90 68.12L462.10 71.77L462.30 75.73L462.50 80.03L462.70 84.70L462.90 89.77L463.10 95.28L463.30 101.27L463.50 107.79L463.70 114.90L463.90 122.66L464.10 131.14L464.30 140.42L464.50 150.55L464.70 161.58L464.90 173.45L465.10 185.93L465.30 198.42L465.50 209.64L465.70 217.55L465.90 219.93L466.10 215.89L466.30 206.77L466.50 194.86L466.70 182.04L466.90 169.41L467.10 157.48L467.30 146.43L467.50 136.27L467.70 126.97L467.90 118.46L468.10 110.67L468.30 103.53L468.50 96.97L468.70 90.96L468.90 85.43L469.10 80.36L469.30 75.70L469.50 71.43L469.70 67.52L469.90 63.95L470.00 62.29L470.04 61.64L470.08 61.01L470.12 60.39L470.16 59.78L470.20 59.19L470.24 58.61L470.28 58.03L470.32 57.48L470.36 56.93L470.40 56.39L470.44 55.87L470.48 55.35L470.52 54.85L470.56 54.36L470.60 53.88L470.64 53.41L470.68 52.95L470.72 52.50L470.76 52.06L470.80 51.64L470.84 51.22L470.88 50.82L470.92 50.42L470.96 50.04L471.00 49.66L471.04 49.30L471.08 48.95L471.12 48.60L471.16 48.27L471.20 47.95L471.24 47.63L471.28 47.33L471.32 47.04L471.36 46.76L471.40 46.48L471.44 46.22L471.48 45.97L471.52 45.72L471.56 45.49L471.60 45.27L471.64 45.05L471.68 44.85L471.72 44.65L471.76 44.47L471.80 44.29L471.84 44.12L471.88 43.97L471.92 43.82L471.96 43.68L472.00 43.56L472.04 43.44L472.08 43.33L472.12 43.23L472.16 43.14L472.20 43.06L472.24 42.99L472.28 42.93L472.32 42.88L472.36 42.84L472.40 42.81L472.44 42.79L472.48 42.77L472.52 42.77L472.56 42.78L472.60 42.79L472.64 42.82L472.68 42.85L472.72 42.89L472.76 42.94L472.80 42.99L472.84 43.06L472.88 43.14L472.92 43.22L472.96 43.32L473.00 43.42L473.04 43.54L473.08 43.66L473.12 43.80L473.16 43.95L473.20 44.10L473.24 44.27L473.28 44.44L473.32 44.63L473.36 44.83L473.40 45.04L473.44 45.25L473.48 45.48L473.52 45.72L473.56 45.97L473.60 46.23L473.64 46.50L473.68 46.78L473.72 47.07L473.76 47.38L473.80 47.69L473.84 48.02L473.88 48.35L473.92 48.70L473.96 49.06L474.00 49.43L474.04 49.82L474.08 50.21L474.12 50.62L474.16 51.03L474.20 51.46L474.24 51.91L474.28 52.36L474.32 52.83L474.36 53.31L474.40 53.80L474.44 54.30L474.48 54.82L474.52 55.35L474.56 55.89L474.60 56.45L474.64 57.02L474.68 57.61L474.72 58.20L474.76 58.81L474.80 59.44L474.84 60.08L474.88 60.73L474.92 61.40L474.96 62.09L475.00 62.79L475.04 63.50L475.08 64.23L475.12 64.98L475.16 65.74L475.20 66.52L475.24 67.31L475.28 68.12L475.32 68.95L475.36 69.79L475.40 70.66L475.44 71.54L475.48 72.43L475.52 73.35L475.56 74.29L475.60 75.24L475.64 76.21L475.68 77.21L475.72 78.22L475.76 79.25L475.80 80.31L475.84 81.38L475.88 82.48L475.92 83.60L475.96 84.74L476.00 85.90L476.04 87.09L476.08 88.30L476.12 89.54L476.16 90.80L476.20 92.09L476.24 93.40L476.28 94.74L476.32 96.10L476.36 97.49L476.40 98.92L476.44 100.37L476.48 101.85L476.52 103.36L476.56 104.90L476.60 106.47L476.64 108.07L476.68 109.71L476.72 111.39L476.76 113.09L476.80 114.84L476.84 116.61L476.88 118.43L476.92 120.29L476.96 122.18L477.00 124.11L477.04 126.09L477.08 128.10L477.12 130.16L477.16 132.27L477.20 134.41L477.24 136.60L477.28 138.84L477.32 141.13L477.36 143.46L477.40 145.83L477.44 148.26L477.48 150.73L477.52 153.26L477.56 155.83L477.60 158.44L477.64 161.10L477.68 163.81L477.72 166.55L477.76 169.33L477.80 172.15L477.84 175.00L477.88 177.87L477.92 180.76L477.96 183.66L478.00 186.55L478.04 189.42L478.08 192.27L478.12 195.07L478.16 197.80L478.20 200.44L478.24 202.97L478.28 205.36L478.32 207.58L478.36 209.60L478.40 211.38L478.44 212.88L478.48 214.10L478.52 215.00L478.56 215.58L478.60 215.82L478.64 215.71L478.68 215.26L478.72 214.47L478.76 213.36L478.80 211.96L478.84 210.28L478.88 208.35L478.92 206.21L478.96 203.88L479.00 201.39L479.04 198.77L479.08 196.05L479.12 193.25L479.16 190.39L479.20 187.49L479.24 184.57L479.28 181.63L479.32 178.69L479.36 175.77L479.40 172.86L479.44 169.98L479.48 167.14L479.52 164.32L479.56 161.55L479.60 158.82L479.64 156.13L479.68 153.49L479.72 150.90L479.76 148.35L479.80 145.86L479.84 143.41L479.88 141.00L479.92 138.65L479.96 136.34L480.00 134.08L480.04 131.87L480.08 129.70L480.12 127.57L480.16 125.49L480.20 123.45L480.24 121.45L480.28 119.49L480.32 117.58L480.36 115.70L480.40 113.86L480.44 112.06L480.48 110.29L480.52 108.56L480.56 106.87L480.60 105.21L480.64 103.58L480.68 101.99L480.72 100.43L480.76 98.90L480.80 97.40L480.84 95.93L480.88 94.49L480.92 93.08L480.96 91.69L481.00 90.34L481.04 89.01L481.08 87.71L481.12 86.43L481.16 85.18L481.20 83.96L481.24 82.76L481.28 81.58L481.32 80.43L481.36 79.30L481.40 78.19L481.44 77.10L481.48 76.04L481.52 75.00L481.56 73.98L481.60 72.98L481.64 72.00L481.68 71.04L481.72 70.10L481.76 69.19L481.80 68.29L481.84 67.41L481.88 66.54L481.92 65.70L481.96 64.88L482.00 64.07L482.04 63.28L482.08 62.51L482.12 61.76L482.16 61.02L482.20 60.30L482.24 59.60L482.28 58.91L482.32 58.24L482.36 57.59L482.40 56.95L482.44 56.33L482.48 55.72L482.52 55.13L482.56 54.56L482.60 54.00L482.64 53.45L482.68 52.93L482.72 52.41" stroke-linejoin="bevel" stroke="#c9c9c9" stroke-width="6.3" stroke-dasharray="24 9" stroke-dashoffset="26.58"/>
<path transform="translate(0 0.5)" d="M482.72 52.41L482.76 51.91L482.80 51.43L482.84 50.96L482.88 50.50L482.92 50.06L482.96 49.63L483.00 49.22L483.04 48.82L483.08 48.43L483.12 48.06L483.16 47.70L483.20 47.36L483.24 47.03L483.28 46.71L483.32 46.41L483.36 46.12L483.40 45.85L483.44 45.58L483.48 45.34L483.52 45.10L483.56 44.88L483.60 44.67L483.64 44.47L483.68 44.29L483.72 44.12L483.76 43.96L483.80 43.82L483.84 43.69L483.88 43.57L483.92 43.47L483.96 43.37L484.00 43.30L484.04 43.23L484.08 43.18L484.12 43.14L484.16 43.11L484.20 43.10L484.24 43.10L484.28 43.11L484.32 43.14L484.36 43.18L484.40 43.23L484.44 43.30L484.48 43.37L484.52 43.47L484.56 43.57L484.60 43.69L484.64 43.82L484.68 43.97L484.72 44.13L484.76 44.30L484.80 44.48L484.84 44.68L484.88 44.90L484.92 45.12L484.96 45.36L485.00 45.62L485.04 45.89L485.08 46.17L485.12 46.46L485.16 46.78L485.20 47.10L485.24 47.44L485.28 47.79L485.32 48.16L485.36 48.55L485.40 48.95L485.44 49.36L485.48 49.79L485.52 50.23L485.56 50.69L485.60 51.17L485.64 51.66L485.68 52.16L485.72 52.69L485.76 53.22L485.80 53.78L485.84 54.35L485.88 54.93L485.92 55.53L485.96 56.15L486.00 56.79L486.04 57.44L486.08 58.11" stroke="#c9c9c9" stroke-width="6.3"/>
<path transform="translate(0 0.5)" d="M322.90 300.33L323.10 306.80L323.30 313.61L323.50 320.77L323.70 328.28L323.90 336.11L324.10 344.22L324.30 352.49L324.50 359.90L324.70 359.90L324.90 359.90L325.10 359.90L325.30 359.90L325.50 359.90L325.70 359.90L325.90 359.90L326.10 359.90L326.30 359.90L326.50 357.68L326.70 349.11L326.90 340.55L327.10 332.18L327.30 324.10L327.50 316.35L327.70 308.96L327.90 301.91" stroke-linejoin="bevel" stroke="#c9c9c9" stroke-width="6.3"/>
<path d="M67.70 25.63L142.55 26.06L186.46 27.36L212.14 29.90L230.36 33.36L244.49 37.34L256.04 42.02L261.63 44.93L261.83 45.04L262.03 45.16L262.23 45.28L262.43 45.40L262.63 45.52L262.83 45.64L263.03 45.76L263.23 45.88L263.43 46.00L263.63 46.12L263.83 46.25L264.03 46.37L264.23 46.50L264.43 46.63L264.63 46.75L264.83 46.88L265.03 47.01L265.23 47.14L265.43 47.27L265.63 47.41L265.83 47.54L266.03 47.67L266.23 47.81L266.43 47.94L266.63 48.08L266.83 48.22L267.03 48.35L267.23 48.49L267.43 48.63L267.63 48.77L267.83 48.91L268.03 49.06L268.23 49.20L268.43 49.34L268.63 49.49L268.83 49.63L269.03 49.78L269.23 49.92L269.43 50.07L269.63 50.22L269.83 50.37L270.03 50.52L270.23 50.67L270.43 50.82L270.63 50.97L270.83 51.12L271.03 51.27L271.23 51.42L271.43 51.58L271.63 51.73L271.83 51.89L272.03 52.04L272.23 52.20L272.43 52.35L272.63 52.51L272.83 52.67L273.03 52.83L273.23 52.99L273.43 53.15L273.63 53.31L273.83 53.48L274.03 53.64L274.23 53.81L274.43 53.97L274.63 54.14L274.83 54.31L275.03 54.48L275.23 54.65L275.43 54.82L275.63 55.00L275.83 55.17L276.03 55.35L276.23 55.53L276.43 55.71L276.63 55.90L276.83 56.08L277.03 56.27L277.23 56.45L277.43 56.65L277.63 56.84L277.83 57.03L278.03 57.23L278.23 57.42L278.43 57.62L278.63 57.83L278.83 58.03L279.03 58.24L279.23 58.44L279.43 58.65L279.63 58.87L279.83 59.08L280.03 59.30L280.23 59.52L280.43 59.74L280.63 59.96L280.83 60.19L281.03 60.42L281.23 60.65L281.43 60.89L281.63 61.12L281.83 61.37L282.03 61.61L282.23 61.86L282.43 62.11L282.63 62.36L282.83 62.62L283.03 62.88L283.23 63.14L283.43 63.41L283.63 63.68L283.83 63.96L284.03 64.24L284.23 64.52L284.43 64.81L284.63 65.10L284.83 65.40L285.03 65.70L285.23 66.00L285.43 66.31L285.63 66.63L285.83 66.94L286.03 67.26L286.23 67.59L286.43 67.92L286.63 68.25L286.83 68.59L287.03 68.93L287.23 69.27L287.43 69.62L287.63 69.97L287.83 70.33L288.03 70.69L288.23 71.05L288.43 71.41L288.63 71.78L288.83 72.16L289.03 72.53L289.23 72.91L289.43 73.30L289.63 73.68L289.83 74.08L290.03 74.47L290.23 74.87L290.43 75.27L290.63 75.68L290.83 76.09L291.03 76.50L291.23 76.92L291.43 77.34L291.63 77.76L291.83 78.19L292.03 78.62L292.23 79.06L292.43 79.50L292.63 79.94L292.83 80.38L293.03 80.83L293.23 81.29L293.43 81.74L293.63 82.20L293.83 82.66L294.03 83.13L294.23 83.60L294.43 84.07L294.63 84.54L294.83 85.02L295.03 85.50L295.23 85.99L295.43 86.48L295.63 86.97L295.83 87.47L296.03 87.96L296.23 88.47L296.43 88.97L296.63 89.48L296.83 90.00L297.03 90.51L297.23 91.04L297.43 91.56L297.63 92.09L297.83 92.63L298.03 93.17L298.23 93.71L298.43 94.26L298.63 94.82L298.83 95.38L299.03 95.95L299.23 96.52L299.43 97.09L299.63 97.68L299.83 98.26L300.03 98.86L300.23 99.46L300.43 100.07L300.63 100.68L300.83 101.30L301.03 101.93L301.23 102.56L301.43 103.21L301.63 103.85L301.83 104.51L302.03 105.17L302.23 105.84L302.43 106.52L302.63 107.21L302.83 107.90L303.03 108.60L303.23 109.31L303.43 110.03L303.63 110.76L303.83 111.49L304.03 112.24L304.23 112.99L304.43 113.75L304.63 114.52L304.83 115.30L305.03 116.09L305.23 116.89L305.43 117.71L305.63 118.53L305.83 119.36L306.03 120.20L306.23 121.05L306.43 121.92L306.63 122.79L306.83 123.68L307.03 124.58L307.23 125.49L307.43 126.41L307.63 127.34L307.83 128.29L308.03 129.25L308.23 130.23L308.43 131.22L308.63 132.22L308.83 133.24L309.03 134.27L309.23 135.31L309.43 136.38L309.63 137.45L309.83 138.55L310.03 139.66L310.23 140.79L310.43 141.93L310.63 143.09L310.83 144.27L311.03 145.47L311.23 146.69L311.43 147.93L311.63 149.19L311.83 150.46L312.03 151.76L312.23 153.08L312.43 154.43L312.63 155.80L312.83 157.19L313.03 158.61L313.23 160.05L313.43 161.52L313.63 163.02L313.83 164.54L314.03 166.10L314.23 167.68L314.43 169.30L314.63 170.95L314.83 172.63L315.03 174.35L315.23 176.11L315.43 177.90L315.63 179.73L315.83 181.60L316.03 183.52L316.23 185.47L316.43 187.48L316.63 189.53L316.83 191.63L317.03 193.78L317.23 195.99L317.43 198.25L317.63 200.57L317.83 202.95L318.03 205.40L318.23 207.92L318.43 210.51L318.63 213.17L318.83 215.92L319.03 218.75L319.23 221.66L319.43 224.67L319.63 227.78L319.83 231.00L320.03 234.33L320.23 237.77L320.43 241.35L320.63 245.06L320.83 248.91L321.03 252.92L321.23 257.09L321.43 261.45L321.63 265.99L321.83 270.74L322.03 275.71L322.23 280.92L322.43 286.39L322.63 292.14L322.83 298.18L323.03 304.54L323.23 311.23L323.43 318.27L323.63 325.66L323.83 333.39L324.03 341.41L324.23 349.64L324.43 357.92L324.63 359.90L324.83 359.90L325.03 359.90L325.23 359.90L325.43 359.90L325.63 359.90L325.83 359.90L326.03 359.90L326.23 359.90L326.43 359.90L326.63 352.06L326.83 343.47L327.03 335.02L327.23 326.83L327.43 318.97L327.63 311.45L327.83 304.29L328.03 297.47L328.23 290.97L328.43 284.79L328.63 278.89L328.83 273.25L329.03 267.87L329.23 262.72L329.43 257.78L329.63 253.04L329.83 248.48L330.03 244.10L330.23 239.88L330.43 235.80L330.63 231.86L330.83 228.05L331.03 224.37L331.23 220.80L331.43 217.34L331.63 213.99L331.83 210.74L332.03 207.59L332.23 204.52L332.43 201.54L332.63 198.63L332.83 195.80L333.03 193.04L333.23 190.35L333.43 187.73L333.63 185.16L333.83 182.66L334.03 180.21L334.23 177.82L334.43 175.48L334.63 173.19L334.83 170.94L335.03 168.75L335.23 166.59L335.43 164.48L335.63 162.41L335.83 160.38L336.03 158.39L336.23 156.43L336.43 154.51L336.63 152.62L336.83 150.77L337.03 148.95L337.23 147.15L337.43 145.39L337.63 143.66L337.83 141.96L338.03 140.28L338.23 138.63L338.43 137.01L338.63 135.39L338.83 133.80L339.03 132.23L339.23 130.69L339.43 129.17L339.63 127.66L339.83 126.18L340.03 124.72L340.23 123.28L340.43 121.86L340.63 120.46L340.83 119.08L341.03 117.72L341.23 116.37L341.43 115.04L341.63 113.73L341.83 112.44L342.03 111.16L342.23 109.90L342.43 108.65L342.63 107.42L342.83 106.21L343.03 105.01L343.23 103.82L343.43 102.65L343.63 101.49L343.83 100.35L344.03 99.22L344.23 98.11L344.43 97.00L344.63 95.91L344.83 94.84L345.03 93.77L345.23 92.72L345.43 91.68L345.63 90.65L345.83 89.64L346.03 88.63L346.23 87.64L346.43 86.66L346.63 85.69L346.83 84.73L347.03 83.78L347.23 82.84L347.43 81.91L347.63 81.00L347.83 80.09L348.03 79.20L348.23 78.31L348.43 77.44L348.63 76.57L348.83 75.71L349.03 74.87L349.23 74.03L349.43 73.20L349.63 72.39L349.83 71.58L350.03 70.78L350.23 69.99L350.43 69.21L350.63 68.44L350.83 67.68L351.03 66.92L351.23 66.18L351.43 65.44L351.63 64.71L351.83 63.99L352.03 63.28L352.23 62.58L352.43 61.89L352.63 61.20L352.83 60.52L353.03 59.85L353.23 59.19L353.43 58.54L353.63 57.90L353.83 57.26L354.03 56.63L354.23 56.01L354.43 55.40L354.63 54.80L354.83 54.20L355.03 53.61L355.23 53.03L355.43 52.46L355.63 51.89L355.83 51.33L356.03 50.78L356.23 50.24L356.43 49.71L356.63 49.18L356.83 48.66L357.03 48.15L357.23 47.65L357.43 47.15L357.63 46.66L357.83 46.18L358.03 45.71L358.23 45.24L358.43 44.78L358.63 44.33L358.83 43.89L359.03 43.45L359.23 43.02L359.43 42.60L359.63 42.19L359.83 41.79L360.03 41.39L360.23 41.00L360.43 40.62L360.63 40.24L360.83 39.87L361.03 39.51L361.23 39.16L361.43 38.82L361.63 38.48L361.83 38.15L362.03 37.83L362.23 37.52L362.43 37.21L362.63 36.91L362.83 36.62L363.03 36.34L363.23 36.06L363.43 35.80L363.63 35.54L363.83 35.29L364.03 35.04L364.23 34.81L364.43 34.58L364.63 34.36L364.83 34.15L365.03 33.95L365.23 33.76L365.43 33.57L365.63 33.39L365.83 33.22L366.03 33.06L366.23 32.91L366.43 32.76L366.63 32.63L366.83 32.50L367.03 32.38L367.23 32.27L367.43 32.17L367.63 32.08L367.83 32.00L368.03 31.92L368.23 31.86L368.43 31.80L368.63 31.75L368.83 31.72L369.03 31.69L369.23 31.67L369.43 31.66L369.63 31.66L369.83 31.66L370.03 31.68L370.23 31.71L370.43 31.75L370.63 31.79L370.83 31.85L371.03 31.92L371.23 32.00L371.43 32.08L371.63 32.18L371.83 32.29L372.03 32.41L372.23 32.54L372.43 32.69L372.63 32.84L372.83 33.00L373.03 33.18L373.23 33.37L373.43 33.57L373.63 33.78L373.83 34.00L374.03 34.24L374.23 34.49L374.43 34.75L374.63 35.02L374.83 35.30L375.03 35.60L375.23 35.91L375.43 36.24L375.63 36.58L375.83 36.93L376.03 37.30L376.23 37.68L376.43 38.07L376.63 38.48L376.83 38.90L377.03 39.34L377.23 39.80L377.43 40.27L377.63 40.75L377.83 41.26L378.03 41.77L378.23 42.31L378.43 42.86L378.63 43.43L378.83 44.02L379.03 44.62L379.23 45.25L379.43 45.89L379.63 46.55L379.83 47.23L380.03 47.93L380.23 48.65L380.43 49.39L380.63 50.15L380.83 50.94L381.03 51.74L381.23 52.57L381.43 53.42L381.63 54.29L381.83 55.19L382.03 56.11L382.23 57.06L382.43 58.04L382.63 59.04L382.83 60.06L383.03 61.12L383.23 62.20L383.43 63.32L383.63 64.46L383.83 65.64L384.03 66.84L384.23 68.08L384.43 69.36L384.63 70.66L384.83 72.01L385.03 73.39L385.23 74.81L385.43 76.27L385.63 77.77L385.83 79.31L386.03 80.90L386.23 82.53L386.43 84.21L386.63 85.94L386.83 87.72L387.03 89.55L387.23 91.43L387.43 93.38L387.63 95.38L387.83 97.44L388.03 99.57L388.23 101.77L388.43 104.04L388.63 106.38L388.83 108.80L389.03 111.30L389.23 113.88L389.43 116.56L389.63 119.33L389.83 122.21L390.03 125.18L390.23 128.28L390.43 131.49L390.63 134.83L390.83 138.30L391.03 141.92L391.23 145.69L391.43 149.63L391.63 153.74L391.83 158.05L392.03 162.56L392.23 167.29L392.43 172.26L392.63 177.49L392.83 183.00L393.03 188.81L393.23 194.94L393.43 201.43L393.63 208.29L393.83 215.55L394.03 223.21L394.23 231.28L394.43 239.73L394.63 248.47L394.83 257.35L395.03 266.07L395.23 274.18L395.43 281.01L395.63 285.78L395.83 287.81L396.03 286.67L396.23 282.52L396.43 276.01L396.63 267.96L396.83 259.09L397.03 249.93L397.23 240.82L397.43 231.97L397.63 223.48L397.83 215.38L398.03 207.70L398.23 200.43L398.43 193.53L398.63 187.00L398.83 180.81L399.03 174.93L399.23 169.33L399.43 164.01L399.63 158.93L399.83 154.09L400.03 149.45L400.23 145.02L400.43 140.77L400.63 136.69L400.83 132.77L401.03 129.00L401.23 125.38L401.43 121.89L401.63 118.53L401.83 115.28L402.03 112.15L402.23 109.13L402.43 106.20L402.63 103.38L402.83 100.64L403.03 97.99L403.23 95.43L403.43 92.95L403.63 90.55L403.83 88.22L404.03 85.96L404.23 83.77L404.43 81.65L404.63 79.59L404.83 77.60L405.03 75.66L405.23 73.78L405.43 71.96L405.63 70.20L405.83 68.48L406.03 66.82L406.23 65.21L406.43 63.66L406.63 62.14L406.83 60.68L407.03 59.26L407.23 57.89L407.43 56.56L407.63 55.28L407.83 54.04L408.03 52.84L408.23 51.69L408.43 50.57L408.63 49.50L408.83 48.46L409.03 47.47L409.23 46.51L409.43 45.60L409.63 44.72L409.83 43.88L410.03 43.08L410.23 42.31L410.43 41.58L410.63 40.89L410.83 40.24L411.03 39.62L411.23 39.04L411.43 38.50L411.63 37.99L411.83 37.52L412.03 37.08L412.23 36.68L412.43 36.32L412.63 36.00L412.83 35.71L413.03 35.45L413.23 35.24L413.43 35.06L413.63 34.92L413.83 34.82L414.03 34.75L414.23 34.73L414.43 34.75L414.63 34.81L414.83 34.91L415.03 35.04L415.23 35.22L415.43 35.44L415.63 35.70L415.83 36.00L416.03 36.34L416.23 36.72L416.43 37.15L416.63 37.62L416.83 38.14L417.03 38.71L417.23 39.32L417.43 39.98L417.63 40.69L417.83 41.45L418.03 42.25L418.23 43.12L418.43 44.03L418.63 45.00L418.83 46.03L419.03 47.11L419.23 48.26L419.43 49.46L419.63 50.73L419.83 52.07L420.03 53.47L420.23 54.94L420.43 56.48L420.63 58.10L420.83 59.80L421.03 61.57L421.23 63.43L421.43 65.38L421.63 67.42L421.83 69.56L422.03 71.79L422.23 74.13L422.43 76.58L422.63 79.15L422.83 81.83L423.03 84.65L423.23 87.60L423.43 90.70L423.63 93.95L423.83 97.37L424.03 100.96L424.23 104.74L424.43 108.72L424.63 112.92L424.83 117.35L425.03 122.03L425.23 126.99L425.43 132.25L425.63 137.84L425.83 143.79L426.03 150.13L426.23 156.90L426.43 164.14L426.63 171.90L426.83 180.22L427.03 189.13L427.23 198.65L427.43 208.73L427.63 219.26L427.83 229.95L428.03 240.22L428.23 249.09L428.43 255.24L428.63 257.39L428.83 254.98L429.03 248.55L429.23 239.39L429.43 228.85L429.63 217.89L429.83 207.09L430.03 196.74L430.23 186.96L430.43 177.79L430.63 169.22L430.83 161.21L431.03 153.72L431.23 146.70L431.43 140.13L431.63 133.95L431.83 128.13L432.03 122.65L432.23 117.48L432.43 112.59L432.63 107.96L432.83 103.58L433.03 99.42L433.23 95.47L433.43 91.71L433.63 88.15L433.83 84.76L434.03 81.53L434.23 78.46L434.43 75.54L434.63 72.76L434.83 70.11L435.03 67.60L435.23 65.21L435.43 62.94L435.63 60.79L435.83 58.75L436.03 56.81L436.23 54.99L436.43 53.26L436.63 51.64L436.83 50.11L437.03 48.68L437.23 47.34L437.43 46.09L437.63 44.94L437.83 43.87L438.03 42.90L438.23 42.01L438.43 41.21L438.63 40.49L438.83 39.87L439.03 39.32L439.23 38.87L439.43 38.49L439.63 38.21L439.83 38.01L440.03 37.90L440.23 37.87L440.43 37.94L440.63 38.09L440.83 38.34L441.03 38.67L441.23 39.10L441.43 39.63L441.63 40.25L441.83 40.96L442.03 41.78L442.23 42.70L442.43 43.72L442.63 44.85L442.83 46.10L443.03 47.46L443.23 48.93L443.43 50.53L443.63 52.26L443.83 54.12L444.03 56.12L444.23 58.26L444.43 60.56L444.63 63.01L444.83 65.63L445.03 68.43L445.23 71.41L445.43 74.59L445.63 77.99L445.83 81.61L446.03 85.47L446.23 89.60L446.43 94.00L446.63 98.71L446.83 103.75L447.03 109.16L447.23 114.96L447.43 121.19L447.63 127.91L447.83 135.15L448.03 142.98L448.23 151.45L448.43 160.61L448.63 170.50L448.83 181.12L449.03 192.38L449.23 203.99L449.43 215.36L449.63 225.34L449.83 232.27L450.03 234.43L450.23 231.17L450.43 223.38L450.63 212.83L450.83 201.11L451.03 189.27L451.23 177.87L451.43 167.12L451.63 157.12L451.83 147.85L452.03 139.27L452.23 131.33L452.43 123.97L452.63 117.15L452.83 110.80L453.03 104.90L453.23 99.40L453.43 94.27L453.63 89.49L453.83 85.02L454.03 80.84L454.23 76.94L454.43 73.30L454.63 69.90L454.83 66.74L455.03 63.79L455.23 61.05L455.43 58.51L455.63 56.16L455.83 54.00L456.03 52.02L456.23 50.22L456.43 48.58L456.63 47.11L456.83 45.80L457.03 44.66L457.23 43.67L457.43 42.84L457.63 42.17L457.83 41.65L458.03 41.28L458.23 41.07L458.43 41.01L458.63 41.09L458.83 41.34L459.03 41.74L459.23 42.30L459.43 43.04L459.63 43.94L459.83 45.02L460.03 46.27L460.23 47.72L460.43 49.35L460.63 51.18L460.83 53.23L461.03 55.49L461.23 57.98L461.43 60.70L461.63 63.69L461.83 66.94L462.03 70.48L462.23 74.33L462.43 78.51L462.63 83.05L462.83 87.98L463.03 93.34L463.23 99.16L463.43 105.49L463.63 112.39L463.83 119.92L464.03 128.15L464.23 137.14L464.43 146.97L464.63 157.69L464.83 169.29L465.03 181.61L465.23 194.19L465.43 206.04L465.63 215.36L465.83 219.84L466.03 217.96L466.23 210.34L466.43 199.13L466.63 186.46L466.83 173.69L467.03 161.49L467.23 150.12L467.43 139.66L467.63 130.07L467.83 121.30L468.03 113.27L468.23 105.91L468.43 99.16L468.63 92.97L468.83 87.28L469.03 82.05L469.23 77.26L469.43 72.85L469.63 68.82L469.83 65.14L470.00 62.29L470.04 61.64L470.08 61.01L470.12 60.39L470.16 59.78L470.20 59.19L470.24 58.61L470.28 58.03L470.32 57.48L470.36 56.93L470.40 56.39L470.44 55.87L470.48 55.35L470.52 54.85L470.56 54.36L470.60 53.88L470.64 53.41L470.68 52.95L470.72 52.50L470.76 52.06L470.80 51.64L470.84 51.22L470.88 50.82L470.92 50.42L470.96 50.04L471.00 49.66L471.04 49.30L471.08 48.95L471.12 48.60L471.16 48.27L471.20 47.95L471.24 47.63L471.28 47.33L471.32 47.04L471.36 46.76L471.40 46.48L471.44 46.22L471.48 45.97L471.52 45.72L471.56 45.49L471.60 45.27L471.64 45.05L471.68 44.85L471.72 44.65L471.76 44.47L471.80 44.29L471.84 44.12L471.88 43.97L471.92 43.82L471.96 43.68L472.00 43.56L472.04 43.44L472.08 43.33L472.12 43.23L472.16 43.14L472.20 43.06L472.24 42.99L472.28 42.93L472.32 42.88L472.36 42.84L472.40 42.81L472.44 42.79L472.48 42.77L472.52 42.77L472.56 42.78L472.60 42.79L472.64 42.82L472.68 42.85L472.72 42.89L472.76 42.94L472.80 42.99L472.84 43.06L472.88 43.14L472.92 43.22L472.96 43.32L473.00 43.42L473.04 43.54L473.08 43.66L473.12 43.80L473.16 43.95L473.20 44.10L473.24 44.27L473.28 44.44L473.32 44.63L473.36 44.83L473.40 45.04L473.44 45.25L473.48 45.48L473.52 45.72L473.56 45.97L473.60 46.23L473.64 46.50L473.68 46.78L473.72 47.07L473.76 47.38L473.80 47.69L473.84 48.02L473.88 48.35L473.92 48.70L473.96 49.06L474.00 49.43L474.04 49.82L474.08 50.21L474.12 50.62L474.16 51.03L474.20 51.46L474.24 51.91L474.28 52.36L474.32 52.83L474.36 53.31L474.40 53.80L474.44 54.30L474.48 54.82L474.52 55.35L474.56 55.89L474.60 56.45L474.64 57.02L474.68 57.61L474.72 58.20L474.76 58.81L474.80 59.44L474.84 60.08L474.88 60.73L474.92 61.40L474.96 62.09L475.00 62.79L475.04 63.50L475.08 64.23L475.12 64.98L475.16 65.74L475.20 66.52L475.24 67.31L475.28 68.12L475.32 68.95L475.36 69.79L475.40 70.66L475.44 71.54L475.48 72.43L475.52 73.35L475.56 74.29L475.60 75.24L475.64 76.21L475.68 77.21L475.72 78.22L475.76 79.25L475.80 80.31L475.84 81.38L475.88 82.48L475.92 83.60L475.96 84.74L476.00 85.90L476.04 87.09L476.08 88.30L476.12 89.54L476.16 90.80L476.20 92.09L476.24 93.40L476.28 94.74L476.32 96.10L476.36 97.49L476.40 98.92L476.44 100.37L476.48 101.85L476.52 103.36L476.56 104.90L476.60 106.47L476.64 108.07L476.68 109.71L476.72 111.39L476.76 113.09L476.80 114.84L476.84 116.61L476.88 118.43L476.92 120.29L476.96 122.18L477.00 124.11L477.04 126.09L477.08 128.10L477.12 130.16L477.16 132.27L477.20 134.41L477.24 136.60L477.28 138.84L477.32 141.13L477.36 143.46L477.40 145.83L477.44 148.26L477.48 150.73L477.52 153.26L477.56 155.83L477.60 158.44L477.64 161.10L477.68 163.81L477.72 166.55L477.76 169.33L477.80 172.15L477.84 175.00L477.88 177.87L477.92 180.76L477.96 183.66L478.00 186.55L478.04 189.42L478.08 192.27L478.12 195.07L478.16 197.80L478.20 200.44L478.24 202.97L478.28 205.36L478.32 207.58L478.36 209.60L478.90 214.00L479.60 190.00L480.30 150.00L481.00 118.00L481.60 105.00L482.00 102.00L482.50 105.00L483.10 118.00L483.90 150.00L484.80 185.00L485.80 215.60" stroke="#000" stroke-width="3.0"/>
</g>
<g clip-path="url(#cb)" fill="none" stroke-linejoin="round">
<path d="M591.70 26.00L613.60 26.30L626.00 27.20L639.40 28.80L649.00 30.40L658.10 32.60L664.00 34.20L670.00 36.20L678.00 40.20L686.30 45.60L694.00 51.50L703.00 60.20L709.40 70.50L715.30 82.00L721.80 96.50L729.00 119.00L733.80 134.00L737.90 152.00L742.30 170.00L747.30 190.00L753.10 213.00L758.10 230.00L763.60 246.00L767.50 255.50L771.00 262.00L775.50 269.00L780.00 275.50L783.00 280.50L788.00 287.50L794.00 293.00L800.00 295.00L806.00 296.30L809.00 295.50L813.00 293.00L818.00 288.80L824.40 279.20L829.00 269.80L833.50 260.90L835.80 254.50L840.50 245.50L845.50 237.00L851.90 218.70L856.80 207.80L863.70 193.00L872.50 174.70L879.40 162.80L886.00 151.50L891.20 142.50L897.10 129.70L902.00 119.90L906.80 112.00L909.70 106.50L918.60 95.60L922.50 88.70L927.50 79.90L934.40 70.00L939.70 62.60L949.60 49.80L959.40 40.90L966.40 35.00L973.40 30.30L979.00 28.20L984.50 27.30L989.00 28.80L992.50 31.30" stroke="#c9c9c9" stroke-width="6.3" stroke-dasharray="24 9" stroke-dashoffset="1.5"/>
<path d="M992.50 31.30L995.50 34.50L998.00 37.80L1000.40 42.50L1003.00 48.00L1005.00 52.20L1006.60 56.00L1008.70 63.00L1010.30 71.50" stroke="#c9c9c9" stroke-width="6.3"/>
<path d="M591.70 146.60L600.00 146.50L616.00 146.40L622.00 146.60L629.00 146.70L645.00 147.00L651.00 147.20L658.00 147.50L673.75 149.00L680.00 149.20L686.90 149.30L695.00 150.30L702.70 149.50L709.40 150.60L714.30 152.60L715.80 152.75L722.40 150.80L730.80 153.50L737.00 154.80L741.00 158.00L745.00 158.80L757.00 163.10L762.80 165.90L767.75 170.40L779.10 179.20L784.00 184.65L787.30 191.10L790.50 196.50L793.50 200.50L795.60 203.50L798.10 209.30L800.60 215.70L805.00 231.00L806.60 237.00L808.60 243.90L812.70 258.80L813.70 265.00L814.40 272.20L818.40 294.40L819.20 300.80L821.60 316.10L821.80 323.00L822.60 329.90L825.50 420.00" stroke="#000" stroke-width="3.0" stroke-dasharray="3.7 5 15.6 4.7" stroke-dashoffset="0.6"/>
<path d="M831.00 420.00L833.30 329.90L834.50 321.60L836.40 306.80L836.90 299.40L837.60 292.50L839.90 276.20L840.90 270.30L841.85 263.90L843.90 248.30L844.60 241.90L845.60 238.00L849.40 218.70L850.90 213.20L852.30 206.30L855.80 195.00L857.50 188.40L859.20 186.00L861.20 180.60L866.60 173.20L869.10 168.70L877.50 162.30L881.00 159.50L883.90 157.54L885.20 155.63L886.50 152.57L887.80 150.76L889.10 149.28L890.40 147.03L891.70 143.24L893.00 140.76L894.30 137.63L895.60 135.59L896.90 131.95L898.20 130.01L899.50 127.80L900.80 124.46L902.10 122.65L903.40 120.06L904.70 116.79L906.00 115.72L907.30 112.98L908.60 110.92L909.90 108.19L911.20 106.95L912.50 104.85L913.80 102.69L915.10 101.88L916.40 100.76L917.70 98.22L919.00 96.46L920.30 94.76L921.60 93.56L922.90 91.34L924.20 88.44L925.50 86.61L926.80 84.21L928.10 80.98L929.40 78.45L930.70 77.71L932.00 75.65L933.30 73.39L934.60 71.25L935.90 69.78L937.20 68.09L938.50 65.87L939.80 64.10L941.10 62.67L942.40 61.79L943.70 59.56L945.00 57.28L946.30 55.59L947.60 54.26L948.90 52.08L950.20 50.39L951.50 49.72L952.80 47.69L954.10 47.30L955.40 45.87L956.70 45.38L958.00 44.28L959.30 42.99L960.60 41.83L961.90 40.10L963.20 39.59L964.50 37.84L965.80 37.21L967.10 35.62L968.40 34.90L969.70 33.21L971.00 32.64L972.30 33.17L973.60 30.76L974.90 30.95L976.20 30.35L977.50 29.99L978.80 28.98L980.10 28.75L981.40 27.43L982.70 27.19L984.00 27.18L985.30 26.82L986.60 27.13L987.90 27.65L989.20 28.96L990.50 29.00L991.80 31.66L993.10 32.30L994.40 33.81L995.70 35.94L997.00 37.10L998.30 40.52L999.60 42.44L1000.60 45.00L1002.90 54.70L1004.90 67.50L1005.90 78.00L1009.70 115.50" stroke="#000" stroke-width="3.0" stroke-dasharray="3.7 5 15.6 4.7" stroke-dashoffset="25.5"/>
<path d="M884.04 154.76L885.99 152.88L887.78 149.12L887.57 148.43L891.04 144.53L891.03 142.27L891.79 139.61L894.15 135.41L896.03 131.31L898.90 127.71L898.61 124.31L899.02 123.81L903.09 119.68L902.32 116.13L904.93 116.41L907.56 111.64L908.04 109.40L909.34 106.10L911.91 105.40L911.04 103.37L914.22 101.61L915.23 98.51L918.47 96.74L919.42 94.79L918.64 92.47L920.56 89.12L922.86 86.55L925.12 86.94L925.49 84.29L927.07 78.72L930.28 75.94L931.88 74.47L931.72 74.20L934.71 72.35L934.48 67.35L935.23 67.36L938.08 63.08L939.99 62.94L942.19 61.45L943.91 60.83L944.82 56.12L946.29 56.25L947.64 54.57L949.11 52.83L950.81 47.55L952.94 47.96L952.62 48.54L953.23 44.97L955.21 45.18L956.65 42.80L958.59 42.29L961.45 39.92L960.65 36.90L963.34 35.84L965.98 34.66L965.76 33.95L966.62 35.70L968.68 33.31L969.66 32.99L973.50 30.91L972.92 30.32L974.50 30.46L978.04 30.35L979.54 29.72L980.30 28.97L982.91 25.58L981.50 26.41L986.10 24.70L986.25 27.43L986.81 29.06L990.06 26.47L990.96 28.48L993.24 30.49L992.64 32.23L995.15 35.68L996.46 37.15L998.17 40.03L999.30 42.25" stroke="#000" stroke-width="3.0"/>
<path d="M883.90 154.73L886.26 150.73L888.49 147.94L891.25 145.39L891.71 140.48L893.59 136.37L896.88 130.33L898.76 127.85L900.44 125.49L902.90 121.16L904.41 117.44L907.32 111.91L907.52 111.14L910.69 107.42L913.30 102.48L913.52 101.71L916.32 97.06L917.61 94.96L919.89 92.46L920.78 88.35L922.62 86.99L926.75 83.69L927.86 78.62L930.35 75.66L932.69 72.05L933.77 69.08L935.62 68.53L937.05 65.33L940.85 60.61L942.96 59.55L944.67 56.69L947.08 55.71L948.43 52.65L950.56 49.80L951.12 47.81L954.77 47.42L955.52 45.74L957.82 41.59L959.48 39.46L962.20 39.79L964.47 35.42L966.22 34.83L967.45 32.24L969.14 31.74L973.06 29.35L973.39 28.95L975.81 30.11L976.71 29.79L979.37 28.77L980.67 27.45L983.49 27.27L986.69 26.67L989.57 26.57L990.36 28.94L991.44 31.62L994.31 32.54L996.19 35.70L998.35 40.20" stroke="#000" stroke-width="3.0"/>
<path d="M591.70 25.40L614.20 25.40L640.30 28.80L659.00 33.70L683.80 45.90L701.70 60.80L709.70 71.40L722.30 97.50L729.00 119.50L733.60 134.00L737.60 152.00L741.90 170.00L746.90 190.00L752.80 213.00L758.10 230.50L763.60 245.30L766.90 255.00L768.90 261.90L772.80 270.80L775.80 274.70L779.70 276.90L783.70 277.90L786.60 283.60L789.60 290.30L792.30 295.10L794.80 296.00L798.30 294.90L800.90 293.90L802.90 295.40L804.30 298.80L806.35 301.80L808.80 300.80L811.30 297.90L814.00 292.00L817.20 289.00L820.65 288.00L823.10 281.60L828.00 269.80L831.00 264.90L833.50 260.90L835.80 254.50L840.50 245.50L845.50 237.00L851.90 218.70L856.80 207.80L863.70 193.00L872.50 174.70L879.40 162.80L886.00 151.50L891.20 142.50L897.10 129.70L902.00 119.90L906.80 112.00L909.70 106.50L918.60 95.60L922.50 88.70L927.50 79.90L934.40 70.00L939.70 62.60L949.60 49.80L959.40 40.90L966.40 35.00L973.40 30.00L979.00 27.80L984.50 26.70L989.00 28.30L992.10 31.00L995.00 35.00L999.90 42.90L1002.80 54.70L1004.80 67.50L1005.80 78.00L1009.70 115.50" stroke="#000" stroke-width="3.0"/>
</g>
<g font-family="'Liberation Serif', 'Times New Roman', serif" font-size="18.5" fill="#000">
<path d="M86.01 329.9v-2.3M86.01 14.1v2.3M100.14 329.9v-2.3M100.14 14.1v2.3M111.69 329.9v-2.3M111.69 14.1v2.3M121.46 329.9v-2.3M121.46 14.1v2.3M129.92 329.9v-2.3M129.92 14.1v2.3M137.38 329.9v-2.3M137.38 14.1v2.3M144.05 329.9v-4.6M144.05 14.1v4.6M187.96 329.9v-2.3M187.96 14.1v2.3M213.64 329.9v-2.3M213.64 14.1v2.3M231.86 329.9v-2.3M231.86 14.1v2.3M245.99 329.9v-2.3M245.99 14.1v2.3M257.54 329.9v-2.3M257.54 14.1v2.3M267.31 329.9v-2.3M267.31 14.1v2.3M275.77 329.9v-2.3M275.77 14.1v2.3M283.23 329.9v-2.3M283.23 14.1v2.3M289.90 329.9v-4.6M289.90 14.1v4.6M333.81 329.9v-2.3M333.81 14.1v2.3M359.49 329.9v-2.3M359.49 14.1v2.3M377.71 329.9v-2.3M377.71 14.1v2.3M391.84 329.9v-2.3M391.84 14.1v2.3M403.39 329.9v-2.3M403.39 14.1v2.3M413.16 329.9v-2.3M413.16 14.1v2.3M421.62 329.9v-2.3M421.62 14.1v2.3M429.08 329.9v-2.3M429.08 14.1v2.3M435.75 329.9v-4.6M435.75 14.1v4.6M479.66 329.9v-2.3M479.66 14.1v2.3M67.7 271.42h4.3M489.1 271.42h-4.3M67.7 212.94h4.3M489.1 212.94h-4.3M67.7 154.46h4.3M489.1 154.46h-4.3M67.7 95.98h4.3M489.1 95.98h-4.3M67.7 37.50h4.3M489.1 37.50h-4.3" stroke="#000" stroke-width="2.5" fill="none"/>
<rect x="67.7" y="14.1" width="421.40000000000003" height="315.79999999999995" fill="none" stroke="#000" stroke-width="2.9"/>
<text transform="translate(63.30 336.60) scale(1.013 1)" text-anchor="end">−20</text>
<text transform="translate(63.30 278.12) scale(1.013 1)" text-anchor="end">−15</text>
<text transform="translate(63.30 219.64) scale(1.013 1)" text-anchor="end">−10</text>
<text transform="translate(63.30 161.16) scale(1.013 1)" text-anchor="end">−5</text>
<text transform="translate(63.30 102.68) scale(1.013 1)" text-anchor="end">0</text>
<text transform="translate(63.30 44.20) scale(1.013 1)" text-anchor="end">5</text>
<text transform="translate(131.45 356.00) scale(1.013 1)" text-anchor="start">10<tspan font-size="12.3" dy="-10.7">2</tspan></text>
<text transform="translate(277.30 356.00) scale(1.013 1)" text-anchor="start">10<tspan font-size="12.3" dy="-10.7">3</tspan></text>
<text transform="translate(423.15 356.00) scale(1.013 1)" text-anchor="start">10<tspan font-size="12.3" dy="-10.7">4</tspan></text>
<text transform="translate(278.70 375.00) scale(1.013 1)" text-anchor="middle">Frequency (Hz)</text>
<text transform="translate(24.8 172.0) rotate(-90) scale(1.021 1)" text-anchor="middle">Ground effect (dB)</text>
<text x="252" y="422.8" text-anchor="middle" font-size="27.6"><tspan dy="-0.5">(</tspan><tspan font-weight="bold" font-size="30" dy="0.5">a</tspan><tspan dy="-0.5">)</tspan></text>
<rect x="74.5" y="254.7" width="162.7" height="68.65000000000003" fill="#fff" stroke="#000" stroke-width="2.8"/>
<path d="M82 267.2H121.8" stroke="#c9c9c9" stroke-width="6.8" stroke-dasharray="23.6 8.8" fill="none"/>
<path d="M82 289.1H121.8" stroke="#000" stroke-width="2.6" stroke-dasharray="3.2 5 16 5" fill="none"/>
<path d="M82 310.2H121.8" stroke="#000" stroke-width="2.6" fill="none"/>
<text transform="translate(126.00 273.80) scale(1.013 1)" text-anchor="start">exact</text>
<text transform="translate(126.00 295.20) scale(1.013 1)" text-anchor="start">filter, 40 taps</text>
<text transform="translate(126.00 316.80) scale(1.013 1)" text-anchor="start">filter, 400 taps</text>
<path d="M610.01 329.9v-2.3M610.01 14.1v2.3M624.14 329.9v-2.3M624.14 14.1v2.3M635.69 329.9v-2.3M635.69 14.1v2.3M645.46 329.9v-2.3M645.46 14.1v2.3M653.92 329.9v-2.3M653.92 14.1v2.3M661.38 329.9v-2.3M661.38 14.1v2.3M668.05 329.9v-4.6M668.05 14.1v4.6M711.96 329.9v-2.3M711.96 14.1v2.3M737.64 329.9v-2.3M737.64 14.1v2.3M755.86 329.9v-2.3M755.86 14.1v2.3M769.99 329.9v-2.3M769.99 14.1v2.3M781.54 329.9v-2.3M781.54 14.1v2.3M791.31 329.9v-2.3M791.31 14.1v2.3M799.77 329.9v-2.3M799.77 14.1v2.3M807.23 329.9v-2.3M807.23 14.1v2.3M813.90 329.9v-4.6M813.90 14.1v4.6M857.81 329.9v-2.3M857.81 14.1v2.3M883.49 329.9v-2.3M883.49 14.1v2.3M901.71 329.9v-2.3M901.71 14.1v2.3M915.84 329.9v-2.3M915.84 14.1v2.3M927.39 329.9v-2.3M927.39 14.1v2.3M937.16 329.9v-2.3M937.16 14.1v2.3M945.62 329.9v-2.3M945.62 14.1v2.3M953.08 329.9v-2.3M953.08 14.1v2.3M959.75 329.9v-4.6M959.75 14.1v4.6M1003.66 329.9v-2.3M1003.66 14.1v2.3M591.7 271.42h4.3M1013.1 271.42h-4.3M591.7 212.94h4.3M1013.1 212.94h-4.3M591.7 154.46h4.3M1013.1 154.46h-4.3M591.7 95.98h4.3M1013.1 95.98h-4.3M591.7 37.50h4.3M1013.1 37.50h-4.3" stroke="#000" stroke-width="2.5" fill="none"/>
<rect x="591.7" y="14.1" width="421.4" height="315.79999999999995" fill="none" stroke="#000" stroke-width="2.9"/>
<text transform="translate(587.30 336.60) scale(1.013 1)" text-anchor="end">−20</text>
<text transform="translate(587.30 278.12) scale(1.013 1)" text-anchor="end">−15</text>
<text transform="translate(587.30 219.64) scale(1.013 1)" text-anchor="end">−10</text>
<text transform="translate(587.30 161.16) scale(1.013 1)" text-anchor="end">−5</text>
<text transform="translate(587.30 102.68) scale(1.013 1)" text-anchor="end">0</text>
<text transform="translate(587.30 44.20) scale(1.013 1)" text-anchor="end">5</text>
<text transform="translate(655.45 356.00) scale(1.013 1)" text-anchor="start">10<tspan font-size="12.3" dy="-10.7">2</tspan></text>
<text transform="translate(801.30 356.00) scale(1.013 1)" text-anchor="start">10<tspan font-size="12.3" dy="-10.7">3</tspan></text>
<text transform="translate(947.15 356.00) scale(1.013 1)" text-anchor="start">10<tspan font-size="12.3" dy="-10.7">4</tspan></text>
<text transform="translate(802.70 375.00) scale(1.013 1)" text-anchor="middle">Frequency (Hz)</text>
<text transform="translate(548.8 172.0) rotate(-90) scale(1.021 1)" text-anchor="middle">Ground effect (dB)</text>
<text x="776.0" y="422.8" text-anchor="middle" font-size="27.6"><tspan dy="-0.5">(</tspan><tspan font-weight="bold" font-size="30" dy="0.5">b</tspan><tspan dy="-0.5">)</tspan></text>
<rect x="598.5" y="254.7" width="162.70000000000005" height="68.65000000000003" fill="#fff" stroke="#000" stroke-width="2.8"/>
<path d="M606.0 267.2H645.8" stroke="#c9c9c9" stroke-width="6.8" stroke-dasharray="23.6 8.8" fill="none"/>
<path d="M606.0 289.1H645.8" stroke="#000" stroke-width="2.6" stroke-dasharray="3.2 5 16 5" fill="none"/>
<path d="M606.0 310.2H645.8" stroke="#000" stroke-width="2.6" fill="none"/>
<text transform="translate(650.00 273.80) scale(1.013 1)" text-anchor="start">exact</text>
<text transform="translate(650.00 295.20) scale(1.013 1)" text-anchor="start">filter, 40 taps</text>
<text transform="translate(650.00 316.80) scale(1.013 1)" text-anchor="start">filter, 400 taps</text>
</g>
</svg>
</body>
</html>
